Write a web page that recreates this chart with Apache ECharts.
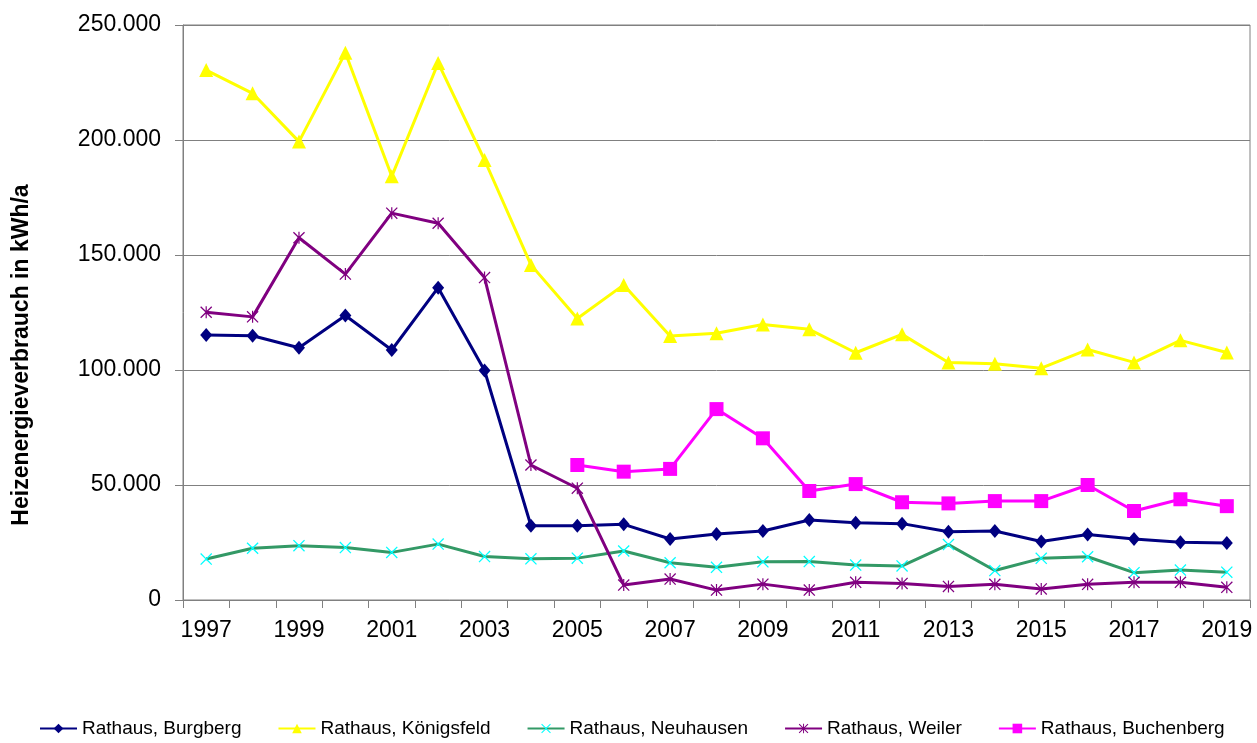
<!DOCTYPE html>
<html>
<head>
<meta charset="utf-8">
<title>Heizenergieverbrauch Rathäuser</title>
<script src="https://cdn.jsdelivr.net/npm/echarts@6/dist/echarts.min.js"></script>
<style>
html, body { margin: 0; padding: 0; background: #fff; }
#main { width: 1257px; height: 743px; }
</style>
</head>
<body>
<div id="main"></div>
<script>
var years = ['1997','1998','1999','2000','2001','2002','2003','2004','2005','2006','2007','2008',
	'2009','2010','2011','2012','2013','2014','2015','2016','2017','2018','2019'];

// Heizenergieverbrauch in kWh/a
var burgberg = [115200,114900,109700,123700,108700,135800,99800,32300,32300,32900,26500,28700,
	30000,34800,33600,33200,29700,30000,25400,28500,26500,25100,24800];
var koenigsfeld = [230400,220300,199300,237900,184200,233500,191300,145700,122400,137000,114800,116000,
	119800,117700,107500,115500,103300,102700,100800,108900,103300,112900,107600];
var neuhausen = [17800,22500,23600,22800,20700,24300,18900,17900,18200,21300,16200,14200,
	16600,16700,15200,14800,24100,12800,18100,18800,11900,13000,12100];
var weiler = [125100,123100,157500,141700,168200,163800,140200,58700,48600,6500,9100,4300,
	6900,4300,7700,7200,5900,6800,4800,6800,7700,7700,5500];
var buchenberg = [null,null,null,null,null,null,null,null,58700,55800,57000,83000,
	70300,47400,50400,42500,42000,43000,43000,50000,38700,43800,40800];

var y_max = 250000;
var y_step = 50000;

// symbols: X and asterisk as filled paths
var sym_x = 'path://M0,1.5L1.5,0L10,8.5L18.5,0L20,1.5L11.5,10L20,18.5L18.5,20L10,11.5L1.5,20L0,18.5L8.5,10Z';
var sym_star = 'path://M0,1.5L1.5,0L10,8.5L18.5,0L20,1.5L11.5,10L20,18.5L18.5,20L10,11.5L1.5,20L0,18.5L8.5,10Z M9,0L11,0L11,20L9,20Z';

var font = 'Arial, "Liberation Sans", sans-serif';

var chart = echarts.init(document.getElementById('main'), null, {renderer: 'canvas'});

function make_line(name, data, color, itemColor, symbol, size){
	return {
		name: name,
		type: 'line',
		data: data,
		symbol: symbol,
		symbolSize: size,
		connectNulls: false,
		animation: false,
		lineStyle: { color: color, width: 3 },
		itemStyle: { color: itemColor, borderWidth: 0 },
		emphasis: { disabled: true }
	};
}

var option = {
	backgroundColor: '#ffffff',
	animation: false,
	grid: {
		left: 183,
		right: 7,
		top: 25,
		bottom: 143,
		show: true,
		borderColor: '#808080',
		borderWidth: 1
	},
	legend: {
		left: 34,
		top: 714,
		width: 1223,
		itemGap: 36,
		itemWidth: 37,
		itemHeight: 12,
		textStyle: { fontFamily: font, fontSize: 19, color: '#000' },
		data: ['Rathaus, Burgberg','Rathaus, Königsfeld','Rathaus, Neuhausen','Rathaus, Weiler','Rathaus, Buchenberg']
	},
	xAxis: {
		type: 'category',
		data: years,
		boundaryGap: true,
		axisLine: { lineStyle: { color: '#808080', width: 1 } },
		axisTick: { show: true, interval: 0, length: 8, lineStyle: { color: '#808080' } },
		axisLabel: { interval: 1, margin: 19, fontFamily: font, fontSize: 23, color: '#000' },
		splitLine: { show: false }
	},
	yAxis: {
		type: 'value',
		min: 0,
		max: y_max,
		interval: y_step,
		name: 'Heizenergieverbrauch in kWh/a',
		nameLocation: 'middle',
		nameGap: 150,
		nameTextStyle: { fontFamily: font, fontSize: 23, fontWeight: 'bold', color: '#000', padding: [0, 85, 0, 0] },
		axisLine: { show: true, lineStyle: { color: '#808080', width: 1 } },
		axisTick: { show: true, length: 8, lineStyle: { color: '#808080' } },
		axisLabel: {
			margin: 22,
			fontFamily: font,
			fontSize: 23,
			color: '#000',
			formatter: function(v){
				if(v == 0) return '0';
				return (v / 1000) + '.000';
			}
		},
		splitLine: { show: true, lineStyle: { color: '#808080', width: 1 } }
	},
	series: [
		make_line('Rathaus, Burgberg', burgberg, '#000080', '#000080', 'diamond', [12, 14]),
		make_line('Rathaus, Königsfeld', koenigsfeld, '#FFFF00', '#FFFF00', 'triangle', 14),
		make_line('Rathaus, Neuhausen', neuhausen, '#339966', '#00FFFF', sym_x, 12),
		make_line('Rathaus, Weiler', weiler, '#800080', '#800080', sym_star, 12),
		make_line('Rathaus, Buchenberg', buchenberg, '#FF00FF', '#FF00FF', 'rect', 14)
	]
};
chart.setOption(option);
</script>
</body>
</html>
